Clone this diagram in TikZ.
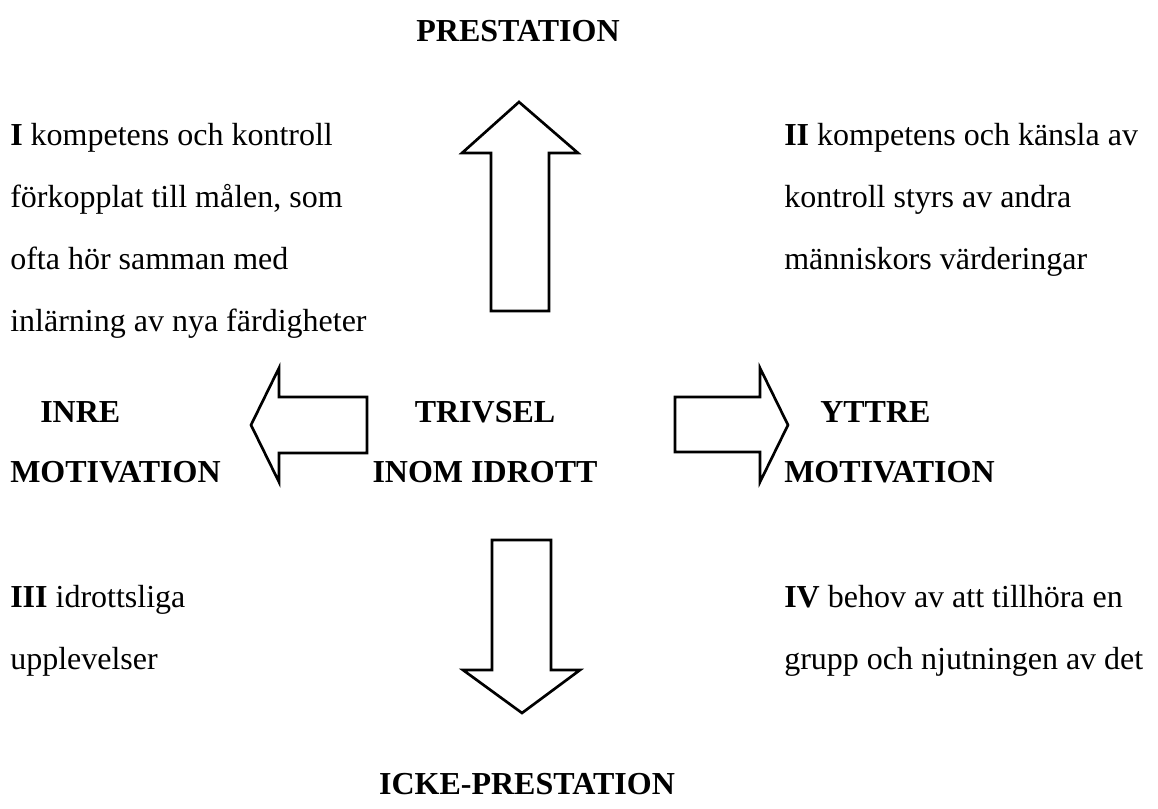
\documentclass[tikz,border=0pt]{standalone}
\usepackage{fontspec}
\setmainfont{Liberation Serif}
\usepackage{tikz}

\begin{document}
\begin{tikzpicture}[x=0.75pt, y=-0.75pt,
        txt/.style={anchor=base west, inner sep=0pt, align=left, font=\fontsize{24}{46.5}\selectfont},
        head/.style={inner sep=0pt, font=\fontsize{24}{45}\selectfont\bfseries},
        fat/.style={draw=black, line width=2pt, line join=miter, fill=white},
    ]
        \useasboundingbox (0,0) rectangle (1158,808);
        % the four arrows
        \draw[fat] (519,102) -- (578,153) -- (549,153) -- (549,311) -- (491,311) -- (491,153) -- (462,153) -- cycle;
        \draw[fat] (522,713) -- (580,670) -- (551,670) -- (551,540) -- (492,540) -- (492,670) -- (463,670) -- cycle;
        \draw[fat] (251,425) -- (279,368) -- (279,397) -- (367,397) -- (367,453) -- (279,453) -- (279,482) -- cycle;
        \draw[fat] (788,425) -- (760,368) -- (760,397) -- (675,397) -- (675,452) -- (760,452) -- (760,482) -- cycle;
        % headings
        \node[head, anchor=base] (prest) at (518,41) {PRESTATION};
        \node[head, anchor=base] (icke) at (527,794) {ICKE-PRESTATION};
        \node[head, anchor=base, align=center] (trivsel) at (485,482) {TRIVSEL\\INOM IDROTT};
        \node[head, anchor=base west, align=left] (inre) at (10,482) {\hspace*{22.5pt}INRE\\MOTIVATION};
        \node[head, anchor=base west, align=left] (yttre) at (784,482) {\hspace*{27pt}YTTRE\\MOTIVATION};
        % the four fields
        \node[txt] (f1) at (10,331) {\textbf{I} kompetens och kontroll\\förkopplat till målen, som\\ofta hör samman med\\inlärning av nya färdigheter};
        \node[txt] (f2) at (784,269) {\textbf{II} kompetens och känsla av\\kontroll styrs av andra\\människors värderingar};
        \node[txt] (f3) at (10,669) {\textbf{III} idrottsliga\\upplevelser};
        \node[txt] (f4) at (784,669) {\textbf{IV} behov av att tillhöra en\\grupp och njutningen av det};
    \end{tikzpicture}
\end{document}
